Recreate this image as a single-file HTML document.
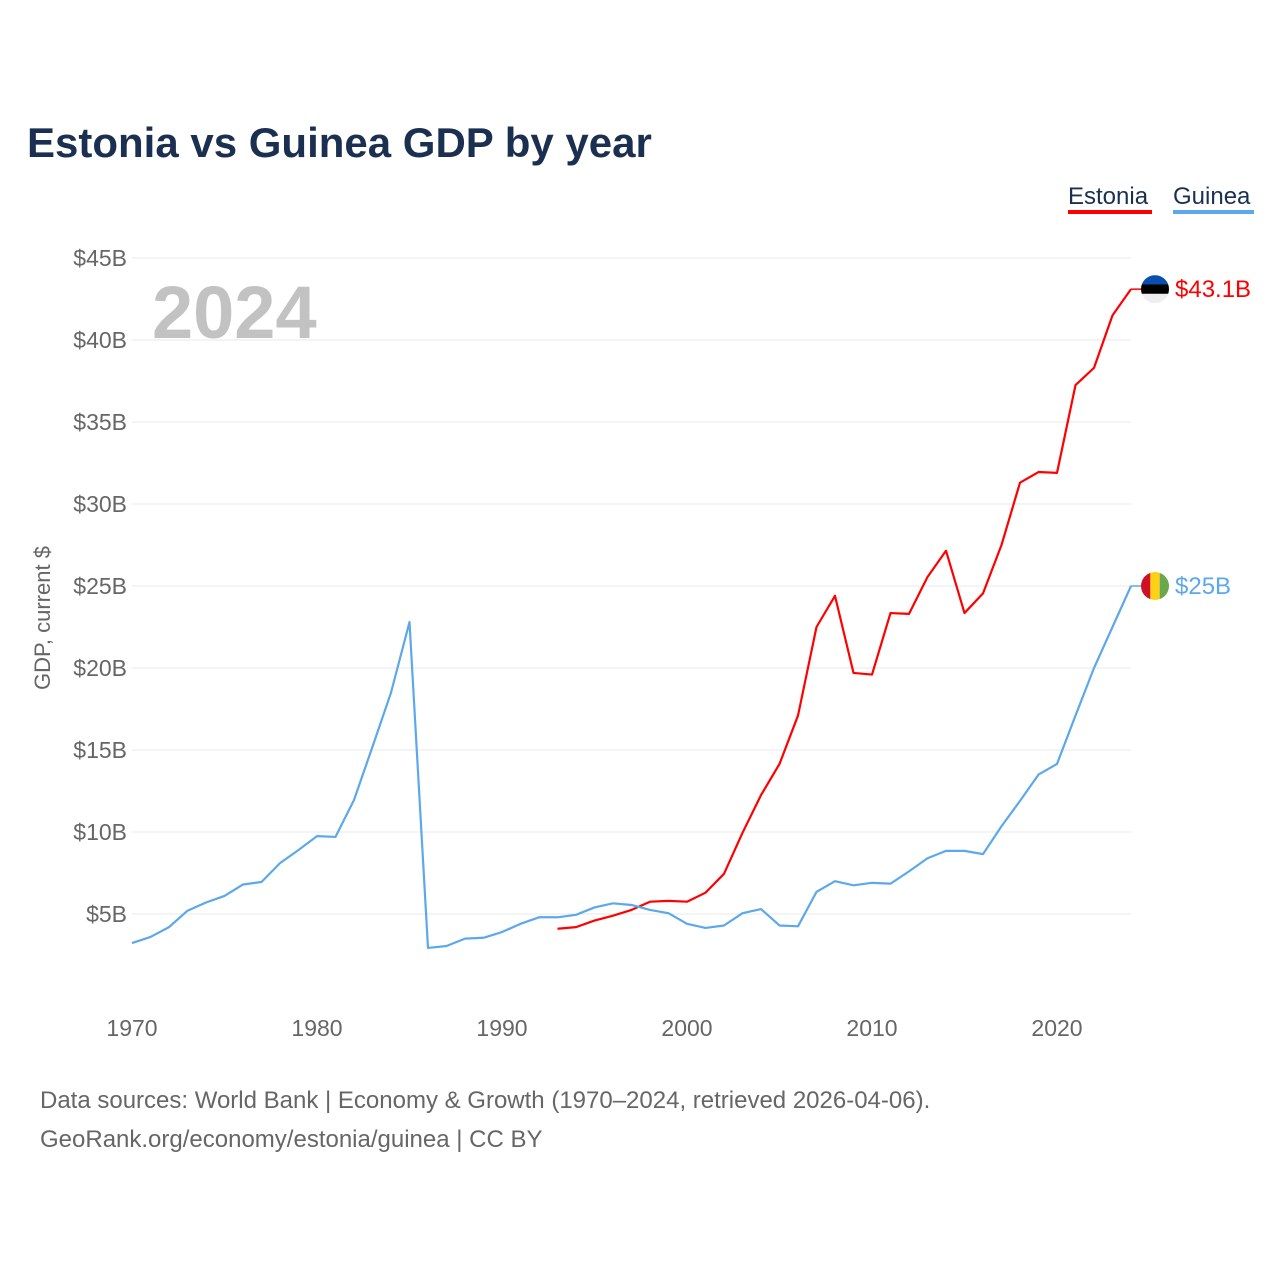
<!DOCTYPE html>
<html><head><meta charset="utf-8">
<style>
body{margin:0;background:#fff;font-family:"Liberation Sans",sans-serif;}
#wrap{position:relative;width:1280px;height:1280px;overflow:hidden;}
</style></head>
<body>
<div id="wrap">
<svg id="chart" width="1280" height="1280">
<text x="27" y="157" font-size="42" font-weight="bold" fill="#1b3050">Estonia vs Guinea GDP by year</text>
<g>
<text x="1068" y="204" font-size="24" fill="#1b3050">Estonia</text>
<rect x="1068" y="210" width="84" height="4" fill="#ff0000"/>
<text x="1173" y="204" font-size="24" fill="#1b3050">Guinea</text>
<rect x="1173" y="210" width="81" height="4" fill="#5da8ea"/>
</g>
<text x="152" y="338" font-size="74" font-weight="bold" fill="#c2c2c2">2024</text>
<text transform="translate(50,618) rotate(-90)" text-anchor="middle" font-size="22" fill="#666">GDP, current $</text>
<g id="grid"></g><g id="xt"></g><g id="lines"></g>
<text x="40" y="1108" font-size="24" fill="#666">Data sources: World Bank | Economy &amp; Growth (1970–2024, retrieved 2026-04-06).</text>
<text x="40" y="1147" font-size="24" fill="#666">GeoRank.org/economy/estonia/guinea | CC BY</text>
</svg>
</div>
<script>
const yTicks=[5,10,15,20,25,30,35,40,45];
const xTicks=[1970,1980,1990,2000,2010,2020];
const guineaStart=1970;
const guinea=[3.23,3.6,4.2,5.2,5.7,6.1,6.8,6.95,8.1,8.9,9.75,9.7,11.95,15.2,18.5,22.8,2.93,3.05,3.5,3.55,3.9,4.4,4.8,4.8,4.95,5.4,5.65,5.55,5.25,5.05,4.4,4.15,4.3,5.05,5.3,4.3,4.25,6.35,7.0,6.75,6.9,6.85,7.6,8.4,8.85,8.85,8.65,10.35,11.9,13.5,14.15,17.1,20.0,22.5,25.0];
const estoniaStart=1993;
const estonia=[4.1,4.2,4.6,4.9,5.25,5.75,5.8,5.75,6.3,7.45,9.95,12.25,14.15,17.1,22.5,24.4,19.7,19.6,23.35,23.3,25.55,27.15,23.35,24.55,27.5,31.3,31.95,31.9,37.25,38.3,41.5,43.1];
const ns="http://www.w3.org/2000/svg";
function X(yr){return 132+(yr-1970)*18.5;}
function Y(v){return 996-v*16.4;}
function mk(t,a,p){const e=document.createElementNS(ns,t);for(const k in a)e.setAttribute(k,a[k]);p.appendChild(e);return e;}
const grid=document.getElementById('grid');
yTicks.forEach(v=>{
 const l=mk('line',{x1:132,x2:1131,y1:Y(v),y2:Y(v),stroke:'#e8e8e8','stroke-width':1},grid);
 
 
 const t=mk('text',{x:127,y:Y(v)+8,'text-anchor':'end','font-size':23,fill:'#666'},grid);
 t.textContent='$'+v+'B';
 
 
});
const xt=document.getElementById('xt');
xTicks.forEach(v=>{
 const t=mk('text',{x:X(v),y:1036,'text-anchor':'middle','font-size':23,fill:'#666'},xt);
 t.textContent=v;
 
 
});
const lines=document.getElementById('lines');
function draw(arr,start,col,name){
 const d=arr.map((v,i)=>(i?'L':'M')+X(start+i)+','+Y(v)).join(' ');
 const p=mk('path',{d:d,fill:'none',stroke:col,'stroke-width':2.2,'stroke-linejoin':'round'},lines);
 
 
 const last=arr[arr.length-1],ly=Y(last),lx=X(start+arr.length-1);
 const c=mk('line',{x1:lx,x2:lx+12,y1:ly,y2:ly,stroke:col,'stroke-width':1.5},lines);
 
 
 const t=mk('text',{x:lx+44,y:ly+8,'font-size':24,fill:col},lines);
 t.textContent='$'+String(last)+'B';
 
 
 return {lx,ly};
}
const e=draw(estonia,estoniaStart,'#ff0000','estonia');
const g=draw(guinea,guineaStart,'#5da8ea','guinea');
const fe=mk('g',{},lines);


const cx=e.lx+24,cy=e.ly;
const ce=mk('clipPath',{id:'ce'},fe);mk('circle',{cx:cx,cy:cy,r:14},ce);
mk('rect',{x:cx-14,y:cy-14,width:28,height:10,fill:'#0a4fb0','clip-path':'url(#ce)'},fe);
mk('rect',{x:cx-14,y:cy-4.7,width:28,height:9.4,fill:'#000','clip-path':'url(#ce)'},fe);
mk('rect',{x:cx-14,y:cy+4.7,width:28,height:10,fill:'#eee','clip-path':'url(#ce)'},fe);
const fg=mk('g',{},lines);


const gx=g.lx+24,gy=g.ly;
const cg=mk('clipPath',{id:'cg'},fg);mk('circle',{cx:gx,cy:gy,r:14},cg);
mk('rect',{x:gx-14,y:gy-14,width:9.4,height:28,fill:'#ce1126','clip-path':'url(#cg)'},fg);
mk('rect',{x:gx-4.7,y:gy-14,width:9.4,height:28,fill:'#fcd116','clip-path':'url(#cg)'},fg);
mk('rect',{x:gx+4.7,y:gy-14,width:9.4,height:28,fill:'#6aa84f','clip-path':'url(#cg)'},fg);
</script>
</body></html>
